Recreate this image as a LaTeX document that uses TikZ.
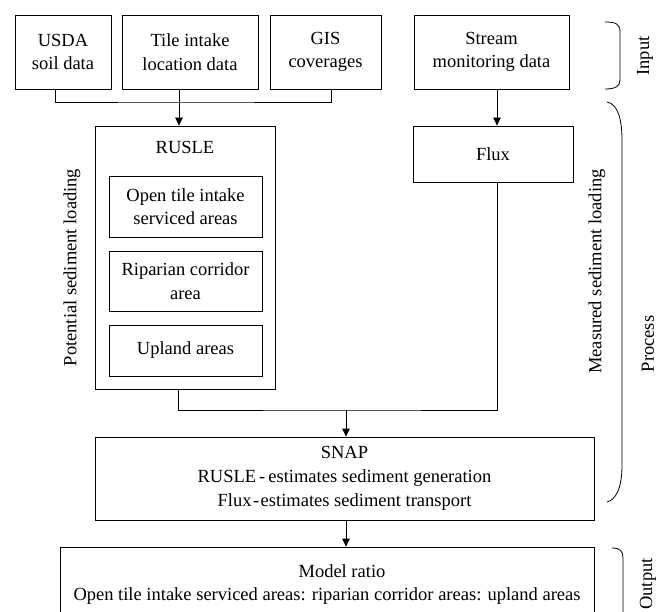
\documentclass[tikz,border=0pt]{standalone}
\usepackage{fontspec}
\setmainfont{Liberation Serif}
\usetikzlibrary{arrows.meta,calc}
\begin{document}
\begin{tikzpicture}[x=1pt,y=-1pt,
  box/.style={draw,line width=0.8pt,inner sep=0pt,align=center,font=\fontsize{18.5}{23.5}\selectfont},
  lbl/.style={inner sep=0pt,font=\fontsize{18.5}{23.5}\selectfont},
  conn/.style={line width=0.8pt},
  arr/.style={conn,-{Triangle[length=8pt,width=7.5pt]}},
  brk/.style={line width=0.8pt}]
\useasboundingbox (0,0) rectangle (666,612);
\clip (0,0) rectangle (666,612);
% inputs
\node[box,minimum width=96pt,minimum height=74pt] (usda) at (63,52) {USDA\\soil data};
\node[box,minimum width=136pt,minimum height=74pt] (tile) at (190,52) {Tile intake\\location data};
\node[box,minimum width=111pt,minimum height=74pt] (gis) at (325.5,52) {GIS\\coverages};
\node[box,minimum width=155pt,minimum height=74pt] (stream) at (491.5,52) {Stream\\monitoring data};
% RUSLE
\node[box,minimum width=180pt,minimum height=263pt] (rusle) at (185,257.5) {};
\node[lbl] (rusletitle) at (185,147) {RUSLE};
\node[box,minimum width=153pt,minimum height=61pt] (open) at (185.5,206.5) {Open tile intake\\serviced areas};
\node[box,minimum width=153pt,minimum height=60pt] (rip) at (185.5,281) {Riparian corridor\\area};
\node[box,minimum width=153pt,minimum height=51pt] (upl) at (185.5,350.5) {Upland areas};
% Flux
\node[box,minimum width=160pt,minimum height=56pt] (flux) at (493,154) {Flux};
% SNAP
\node[box,minimum width=499pt,minimum height=83pt,font=\fontsize{18.5}{24}\selectfont] (snap) at (344.5,478.5)
  {SNAP\\RUSLE\hspace{3pt}-\hspace{3pt}estimates sediment generation\\Flux\hspace{1.5pt}-\hspace{1.5pt}estimates sediment transport};
% Model ratio
\node[box,minimum width=534pt,minimum height=75pt] (model) at (327,584.5)
  {\hspace*{30pt}Model ratio\\Open tile intake serviced areas: riparian corridor areas: upland areas};
% side labels
\node[lbl,rotate=90] (pot) at (72,267.5) {Potential sediment loading};
\node[lbl,rotate=90] (meas) at (597,271.5) {Measured sediment loading};
\node[lbl,rotate=90] (inp) at (645,56) {Input};
\node[lbl,rotate=90] (proc) at (648,344) {Process};
\node[lbl,rotate=90] (outp) at (648,584) {Output};
% connectors
\coordinate (j1) at (179,102);
\draw[conn] ([xshift=-8pt]usda.south) |- (j1) -| ([xshift=5.5pt]gis.south);
\draw[arr] ([xshift=-11pt]tile.south) -- ([xshift=-6pt]rusle.north);
\draw[arr] ([xshift=5.5pt]stream.south) -- ([xshift=4pt]flux.north);
\coordinate (j2) at (346,410);
\draw[conn] ([xshift=-7pt]rusle.south) |- (j2) -| ([xshift=4pt]flux.south);
\draw[arr] (j2) -- (snap.north -| j2);
\draw[arr] (snap.south -| j2) -- (model.north -| j2);
% brackets
\draw[brk] (605,22) .. controls (616,22) and (620,24) .. (620,32) -- (620,80) .. controls (620,86) and (616,89) .. (605,89);
\draw[brk] (607,102) .. controls (618,104) and (622,120) .. (622,140) -- (622,465) .. controls (622,490) and (615,500) .. (607,502);
\draw[brk] (612,548) .. controls (620,548) and (623,551) .. (623,558) -- (623,640);
\end{tikzpicture}
\end{document}
